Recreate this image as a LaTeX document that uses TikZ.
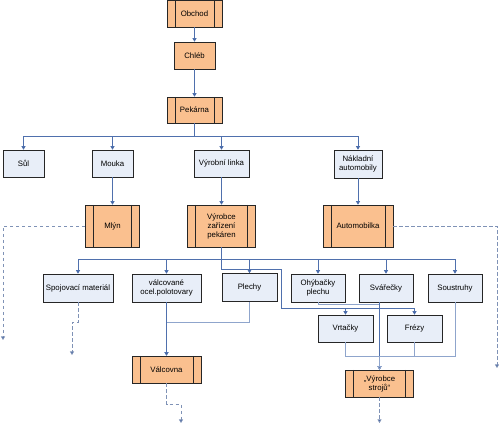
\documentclass[tikz,border=0pt]{standalone}
\usepackage{fontspec}
\setmainfont{Liberation Sans}
\usetikzlibrary{arrows.meta,calc}
\definecolor{orfill}{HTML}{FAC08F}
\definecolor{blfill}{HTML}{E8EEF8}
\definecolor{linec}{HTML}{4F70AD}
\definecolor{lightc}{HTML}{8FA5CC}
\definecolor{dashc}{HTML}{7F92B6}
\definecolor{tipc}{HTML}{3F5F9F}
\tikzset{
  box/.style={draw=black!85, line width=0.6pt, font=\fontsize{7.8}{9}\selectfont, align=center, inner sep=0pt},
  bbox/.style={box, fill=blfill},
  obox/.style={box, fill=orfill},
  pbox/.style={obox, path picture={
     \draw[black!85,line width=0.6pt] ([xshift=8pt]path picture bounding box.north west) -- ([xshift=8pt]path picture bounding box.south west);
     \draw[black!85,line width=0.6pt] ([xshift=-8pt]path picture bounding box.north east) -- ([xshift=-8pt]path picture bounding box.south east);}},
  tip/.style={-{Triangle[width=4pt,length=3.5pt,fill=tipc]}},
  conn/.style={draw=linec, line width=0.7pt, tip},
  lconn/.style={draw=lightc, line width=0.7pt, tip},
  dconn/.style={draw=dashc, line width=0.7pt, dash pattern=on 3.5pt off 2.5pt, tip},
}
\begin{document}
\begin{tikzpicture}[x=1pt,y=-1pt]
\useasboundingbox (0,0) rectangle (499,425);
% nodes
\node[pbox, minimum width=55pt, minimum height=27pt] (obchod) at (194.5,13.5) {Obchod};
\node[obox, minimum width=41pt, minimum height=27pt] (chleb) at (194.5,55.5) {Chléb};
\node[pbox, minimum width=55pt, minimum height=26pt] (pekarna) at (194.5,110) {Pekárna};
\node[bbox, minimum width=41pt, minimum height=27pt] (sul) at (23.5,163.5) {Sůl};
\node[bbox, minimum width=41pt, minimum height=27pt] (mouka) at (112.5,163.5) {Mouka};
\node[bbox, minimum width=55pt, minimum height=27pt] (linka) at (221.5,163.5) {Výrobní linka};
\node[bbox, minimum width=48pt, minimum height=28pt] (nakl) at (358,164) {Nákladní\\automobily};
\node[pbox, minimum width=54pt, minimum height=42pt] (mlyn) at (112.5,226) {Mlýn};
\node[pbox, minimum width=68pt, minimum height=42pt] (vzp) at (221.5,226) {Výrobce\\zařízení\\pekáren};
\node[pbox, minimum width=70pt, minimum height=42pt] (auto) at (358,226) {Automobilka};
\node[bbox, minimum width=70pt, minimum height=28pt] (spoj) at (78,288) {Spojovací materiál};
\node[bbox, minimum width=69pt, minimum height=28pt] (valc) at (166.5,288) {válcované\\ocel.polotovary};
\node[bbox, minimum width=55pt, minimum height=28pt] (plechy) at (249.5,287.5) {Plechy};
\node[bbox, minimum width=54pt, minimum height=28pt] (ohyb) at (318,288) {Ohýbačky\\plechu};
\node[bbox, minimum width=54pt, minimum height=28pt] (svar) at (386,288) {Svářečky};
\node[bbox, minimum width=54pt, minimum height=28pt] (sous) at (455,288) {Soustruhy};
\node[bbox, minimum width=55pt, minimum height=27pt] (vrt) at (345.5,328.5) {Vrtačky};
\node[bbox, minimum width=55pt, minimum height=27pt] (frez) at (414.5,328.5) {Frézy};
\node[pbox, minimum width=69pt, minimum height=27pt] (valcovna) at (166.5,369.5) {Válcovna};
\node[pbox, minimum width=68pt, minimum height=27pt] (stroje) at (379.5,383.5) {„Výrobce\\strojů“};
% free coordinates
\coordinate (c1) at (3,340);
\coordinate (c2) at (497,368);
\coordinate (c3) at (72,355);
\coordinate (c4) at (181,423);
\coordinate (c5) at (379.5,423);
\coordinate (k1) at (281,269);
\coordinate (k2) at (281,308);
% connectors
\draw[conn] (obchod.south) -- (chleb.north);
\draw[conn] (chleb.south) -- (pekarna.north);
\foreach \t in {sul,mouka,linka,nakl}
  \draw[conn] (pekarna.south) -- ++(0,13) -| (\t.north);
\draw[conn] (mouka.south) -- (mouka.south |- mlyn.north);
\draw[conn] (linka.south) -- (linka.south |- vzp.north);
\draw[conn] (nakl.south) -- (nakl.south |- auto.north);
\draw[dconn] (mlyn.west) -| (c1);
\draw[dconn] (auto.east) -| (c2);
\foreach \t in {spoj,valc,plechy,ohyb,svar,sous}
  \draw[conn] (vzp.south) -- ++(0,12) -| (\t.north);
\draw[conn] (vzp.south) |- (k1) -- (k2) -| (vrt.north);
\draw[conn] (k2) -| (frez.north);
\draw[lconn] (ohyb.south) -- ++(0,2) -| (stroje.north);
\draw[conn] (svar.south -| stroje.north) -- (stroje.north);
\draw[lconn] (vrt.south) -- ++(0,14) -| (stroje.north);
\draw[lconn] (frez.south) -- ++(0,14) -| (stroje.north);
\draw[lconn] (sous.south) -- ++(0,54) -| (stroje.north);
\draw[lconn] (plechy.south) -- ++(0,20.5) -| (valcovna.north);
\draw[conn] (valc.south) -- (valcovna.north);
\draw[dconn] (spoj.south) -- ++(0,20) -| (c3);
\draw[dconn] (valcovna.south) -- ++(0,21) -| (c4);
\draw[dconn] (stroje.south) -- (c5);
\end{tikzpicture}
\end{document}
